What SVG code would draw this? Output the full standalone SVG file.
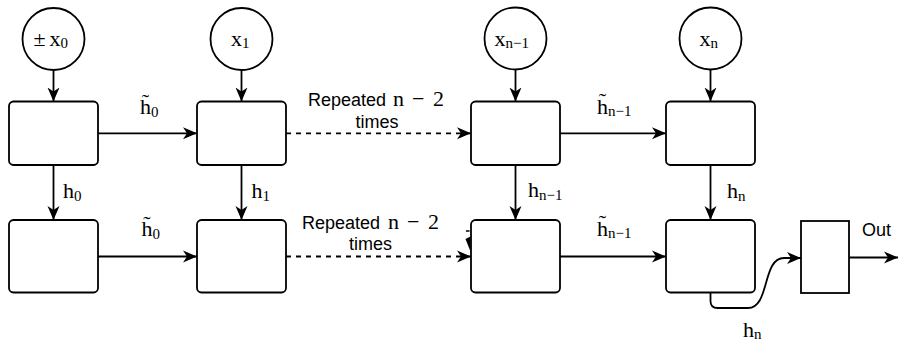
<svg xmlns="http://www.w3.org/2000/svg" width="899" height="343" viewBox="0 0 899 343">
<defs>
<marker id="arr" markerUnits="userSpaceOnUse" markerWidth="15" markerHeight="13" refX="14" refY="6.5" orient="auto" viewBox="0 0 15 13">
<path d="M0,0.5 L14,6.5 L0,12.5 L4,6.5 Z" fill="#000"/>
</marker>
</defs>
<style>
.box{fill:#fff;stroke:#000;stroke-width:1.8}
.circ{fill:#fff;stroke:#000;stroke-width:1.8}
.ln{fill:none;stroke:#000;stroke-width:1.8;marker-end:url(#arr)}
.dash{stroke-dasharray:5 5}
.m{font-family:"Liberation Serif","Times New Roman",serif;font-size:22px;fill:#000}
.s{font-size:15px}
.t{font-family:"Liberation Sans",Arial,sans-serif;font-size:18px;fill:#000}
</style>
<rect width="899" height="343" fill="#fff"/>
<g id="connectors">
<line class="ln" x1="53.5" y1="70" x2="53.5" y2="101.5"/>
<line class="ln" x1="241.5" y1="70" x2="241.5" y2="101.5"/>
<line class="ln" x1="515.5" y1="70" x2="515.5" y2="101.5"/>
<line class="ln" x1="710.5" y1="70" x2="710.5" y2="101.5"/>
<line class="ln" x1="98" y1="133.3" x2="197" y2="133.3"/>
<line class="ln dash" x1="286" y1="133.3" x2="471" y2="133.3"/>
<line class="ln" x1="560" y1="133.3" x2="666" y2="133.3"/>
<line class="ln" x1="53.5" y1="165" x2="53.5" y2="220"/>
<line class="ln" x1="241.5" y1="165" x2="241.5" y2="220"/>
<line class="ln" x1="515.5" y1="165" x2="515.5" y2="220"/>
<line class="ln" x1="710.5" y1="165" x2="710.5" y2="220"/>
<line class="ln" x1="98" y1="256.5" x2="197" y2="256.5"/>
<line class="ln dash" x1="286" y1="256.5" x2="471" y2="256.5"/>
<line class="ln" x1="560" y1="256.5" x2="666" y2="256.5"/>
<path class="ln" d="M710.5,292.5 V301 Q710.5,308 717.5,308 H748 C770,308 762,258 784,258 H801"/>
<line class="ln" x1="849" y1="257.5" x2="898" y2="257.5"/>
<line x1="466" y1="231" x2="469.5" y2="231" stroke="#000" stroke-width="1.5"/>
<polygon points="465.5,239 470.5,236.5 470.5,251.5" fill="#000"/>
</g>
<g id="in0"><circle class="circ" cx="53.5" cy="39" r="31"/>
<text class="m"><tspan x="33.5" y="45.5">±</tspan><tspan x="49.5" y="45.5">x</tspan><tspan class="s" dy="2.5">0</tspan></text></g>
<g id="in1"><circle class="circ" cx="241.5" cy="39" r="31"/>
<text class="m" x="231" y="45.5">x<tspan class="s" dy="2.5">1</tspan></text></g>
<g id="in2"><circle class="circ" cx="515.5" cy="38.5" r="31"/>
<text class="m" x="494.5" y="45.5">x<tspan class="s" dy="2.5">n−1</tspan></text></g>
<g id="in3"><circle class="circ" cx="710.5" cy="38.5" r="31"/>
<text class="m" x="699.5" y="45.5">x<tspan class="s" dy="2.5">n</tspan></text></g>
<g id="cellA1"><rect class="box" x="9" y="101.5" width="89" height="63.5" rx="4.5"/></g>
<g id="cellA2"><rect class="box" x="197" y="101.5" width="89" height="63.5" rx="4.5"/></g>
<g id="cellA3"><rect class="box" x="471" y="101.5" width="89" height="63.5" rx="4.5"/></g>
<g id="cellA4"><rect class="box" x="666" y="101.5" width="89" height="63.5" rx="4.5"/></g>
<g id="cellB1"><rect class="box" x="9" y="220" width="89" height="72.5" rx="4.5"/></g>
<g id="cellB2"><rect class="box" x="197" y="220" width="89" height="72.5" rx="4.5"/></g>
<g id="cellB3"><rect class="box" x="471" y="220" width="89" height="72.5" rx="4.5"/></g>
<g id="cellB4"><rect class="box" x="666" y="220" width="89" height="72.5" rx="4.5"/></g>
<g id="out"><rect class="box" x="801" y="221" width="48" height="72"/></g>
<g id="labels">
<text class="m" x="140" y="114">h̃<tspan class="s" dy="2.5">0</tspan></text>
<text class="m" x="141.5" y="236">h̃<tspan class="s" dy="2.5">0</tspan></text>
<text class="m" x="597" y="113.5">h̃<tspan class="s" dy="2.5">n−1</tspan></text>
<text class="m" x="597" y="235.5">h̃<tspan class="s" dy="2.5">n−1</tspan></text>
<text class="m" x="63" y="198.3">h<tspan class="s" dy="2.5">0</tspan></text>
<text class="m" x="251.5" y="198.3">h<tspan class="s" dy="2.5">1</tspan></text>
<text class="m" x="528" y="197">h<tspan class="s" dy="2.5">n−1</tspan></text>
<text class="m" x="727" y="198">h<tspan class="s" dy="2.5">n</tspan></text>
<text class="m" x="743" y="336.5">h<tspan class="s" dy="2.5">n</tspan></text>
<text class="t" x="308" y="106">Repeated</text>
<text class="m" y="106"><tspan x="393">n</tspan><tspan x="412">−</tspan><tspan x="433">2</tspan></text>
<text class="t" x="377" y="128" text-anchor="middle">times</text>
<text class="t" x="302" y="228.5">Repeated</text>
<text class="m" y="228.5"><tspan x="388">n</tspan><tspan x="407">−</tspan><tspan x="428">2</tspan></text>
<text class="t" x="370.5" y="250" text-anchor="middle">times</text>
<text class="t" x="862" y="236">Out</text>
</g>
</svg>
